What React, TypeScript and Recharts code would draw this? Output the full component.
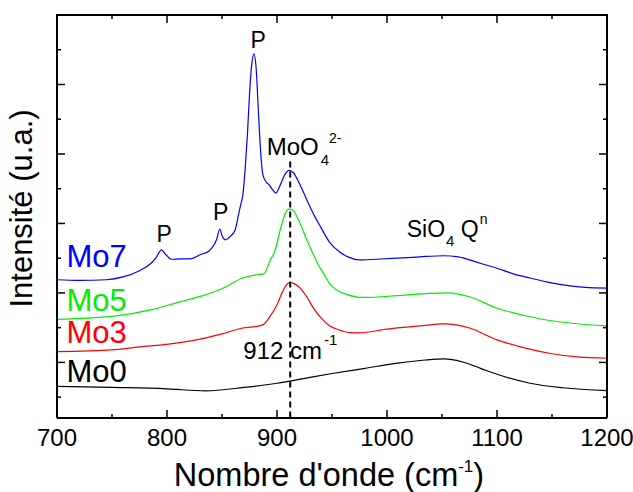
import React from 'react';
import { LineChart, Line, XAxis, YAxis, ReferenceLine, ReferenceDot } from 'recharts';

const FONT = '"Liberation Sans", Arial, Helvetica, sans-serif';

// Raman spectra, stacked (arbitrary units)
const mo0Wave = [700, 750, 800, 835, 870, 900, 930, 950, 980, 1010, 1035, 1052, 1068, 1085, 1100, 1130, 1160, 1200];
const mo0Int = [1.31, 1.28, 1.24, 1.18, 1.28, 1.4, 1.57, 1.68, 1.83, 1.98, 2.07, 2.1, 2.02, 1.83, 1.66, 1.4, 1.27, 1.19];

const mo3Wave = [700, 750, 775, 800, 830, 850, 869, 880, 887, 894, 900, 905, 909, 912, 916, 921, 927, 933, 940, 948, 956, 966, 975, 1000, 1030, 1052, 1075, 1100, 1125, 1150, 1175, 1200];
const mo3Int = [2.31, 2.36, 2.45, 2.52, 2.67, 2.82, 2.99, 3.03, 3.08, 3.34, 3.66, 4.03, 4.25, 4.3, 4.26, 4.14, 3.89, 3.57, 3.28, 3.05, 2.94, 2.86, 2.85, 2.96, 3.05, 3.11, 2.99, 2.65, 2.42, 2.25, 2.15, 2.12];

const mo5Wave = [700, 754, 785, 810, 830, 850, 869, 881, 888, 894, 898, 903, 907, 911, 915, 918, 922, 927, 932, 937, 943, 948, 955, 963, 978, 1009, 1039, 1055, 1075, 1100, 1125, 1145, 1170, 1200];
const mo5Int = [3.24, 3.34, 3.51, 3.73, 3.9, 4.12, 4.43, 4.52, 4.55, 4.95, 5.2, 5.82, 6.25, 6.41, 6.37, 6.2, 5.93, 5.53, 5.18, 4.84, 4.52, 4.26, 4.07, 3.96, 3.87, 3.92, 3.99, 4.0, 3.89, 3.56, 3.35, 3.22, 3.12, 3.05];

const mo7Wave = [700, 720, 745, 760, 775, 785, 790, 795, 799, 804, 812, 821, 830, 838, 843, 845, 848, 850, 853, 858, 862, 865, 867, 869, 871, 873, 875, 877, 879, 881, 883, 885, 887, 890, 893, 896, 899, 903, 907, 911, 915, 920, 925, 930, 935, 940, 948, 957, 965, 975, 990, 1009, 1030, 1051, 1065, 1080, 1100, 1115, 1130, 1145, 1160, 1180, 1200];
const mo7Int = [4.38, 4.36, 4.38, 4.46, 4.64, 4.84, 5.01, 5.24, 5.1, 4.97, 4.98, 4.98, 5.1, 5.2, 5.4, 5.53, 5.84, 5.65, 5.53, 5.64, 5.82, 6.25, 6.54, 6.83, 7.55, 8.5, 9.71, 10.57, 10.88, 10.49, 9.28, 8.12, 7.43, 7.2, 7.11, 6.97, 6.88, 7.11, 7.4, 7.53, 7.46, 7.17, 6.83, 6.48, 6.16, 5.88, 5.45, 5.18, 5.03, 4.95, 4.97, 5.0, 5.04, 5.07, 5.04, 4.9, 4.71, 4.55, 4.43, 4.32, 4.23, 4.16, 4.14];

const xTicks = [700, 750, 800, 850, 900, 950, 1000, 1050, 1100, 1150, 1200];
const yTicks = [1, 2, 3, 4, 5, 6, 7, 8, 9, 10, 11];
const X_DOMAIN = [700, 1200];
const Y_DOMAIN = [0.4, 12];

// chart box
const W = 633;
const H = 492;
const M_TOP = 15;
const M_RIGHT = 26;
const Y_AXIS_W = 57;
const X_AXIS_H = 74;
const PLOT_TOP = M_TOP;
const PLOT_RIGHT = W - M_RIGHT;

const zip = (wave: number[], vals: number[]) => wave.map((x, i) => ({ x, y: vals[i] }));

const series = [
  { name: 'Mo0', color: '#000000', data: zip(mo0Wave, mo0Int), labelY: 1.44 },
  { name: 'Mo3', color: '#ff0000', data: zip(mo3Wave, mo3Int), labelY: 2.55 },
  { name: 'Mo5', color: '#00ee00', data: zip(mo5Wave, mo5Int), labelY: 3.48 },
  { name: 'Mo7', color: '#0000ff', data: zip(mo7Wave, mo7Int), labelY: 4.76 },
];

// peak labels "P"
const peakX = [797.4, 848.9, 882.8];
const peakY = [5.47, 6.11, 11.05];

const txt = { fontFamily: FONT, fill: '#000' };

// bottom tick also draws its mirror on the top edge; the end ticks draw the top and right frame
function BottomTick(props: any) {
  const { x, y, payload } = props;
  const v = payload.value;
  const major = v % 100 === 0;
  const len = major ? 8 : 4;
  return (
    <g>
      <line x1={x} x2={x} y1={y} y2={y - len} stroke="#000" strokeWidth={1.5} />
      <line x1={x} x2={x} y1={PLOT_TOP} y2={PLOT_TOP + len} stroke="#000" strokeWidth={1.5} />
      {v === X_DOMAIN[0] && <line x1={x - 1} x2={PLOT_RIGHT + 1} y1={PLOT_TOP} y2={PLOT_TOP} stroke="#000" strokeWidth={2} />}
      {v === X_DOMAIN[1] && <line x1={x} x2={x} y1={PLOT_TOP} y2={y} stroke="#000" strokeWidth={2} />}
      {major && (
        <text x={x} y={y + 28} textAnchor="middle" fontSize={24} {...txt}>
          {v}
        </text>
      )}
    </g>
  );
}

// left tick also draws its mirror on the right edge
function LeftTick(props: any) {
  const { x, y, payload } = props;
  const len = payload.value % 2 === 0 ? 8 : 4;
  return (
    <g>
      <line x1={x} x2={x + len} y1={y} y2={y} stroke="#000" strokeWidth={1.5} />
      <line x1={PLOT_RIGHT} x2={PLOT_RIGHT - len} y1={y} y2={y} stroke="#000" strokeWidth={1.5} />
    </g>
  );
}

const yTitle = (props: any) => {
  const vb = props.viewBox;
  const cx = vb.x + 32;
  const cy = vb.y + vb.height / 2 - 8;
  return (
    <text x={cx} y={cy} transform={`rotate(-90, ${cx}, ${cy})`} textAnchor="middle" fontSize={31} {...txt}>
      Intensité (u.a.)
    </text>
  );
};

const xTitle = (props: any) => {
  const vb = props.viewBox;
  return (
    <text x={vb.x + vb.width / 2 - 3} y={vb.y + 68} textAnchor="middle" fontSize={32.5} {...txt}>
      Nombre d'onde (cm
      <tspan fontSize={17} dy={-14}>-1</tspan>
      <tspan dy={14}>)</tspan>
    </text>
  );
};

const axisLine = { stroke: '#000', strokeWidth: 2 };

export default function App() {
  return (
    <div style={{ position: 'absolute', left: 0, top: 0, width: W, height: H, background: '#fff' }}>
      <LineChart width={W} height={H} margin={{ top: M_TOP, right: M_RIGHT, bottom: 0, left: 0 }}>
        <XAxis
          dataKey="x"
          type="number"
          domain={X_DOMAIN}
          ticks={xTicks}
          interval={0}
          allowDataOverflow
          height={X_AXIS_H}
          tickSize={0}
          tickMargin={0}
          tickLine={false}
          axisLine={axisLine}
          tick={<BottomTick />}
          label={xTitle}
        />
        <YAxis
          type="number"
          domain={Y_DOMAIN}
          ticks={yTicks}
          interval={0}
          allowDataOverflow
          width={Y_AXIS_W}
          tickSize={0}
          tickMargin={0}
          tickLine={false}
          axisLine={axisLine}
          tick={<LeftTick />}
          label={yTitle}
        />

        {series.map((s) => (
          <Line
            key={s.name}
            data={s.data}
            dataKey="y"
            type="monotone"
            stroke={s.color}
            strokeWidth={1.2}
            dot={false}
            isAnimationActive={false}
          />
        ))}

        <ReferenceLine
          segment={[{ x: 912, y: 7.78 }, { x: 912, y: Y_DOMAIN[0] }]}
          stroke="#000"
          strokeWidth={2}
          strokeDasharray="6 4"
        />

        {series.map((s) => (
          <ReferenceDot
            key={`lbl-${s.name}`}
            x={708.6}
            y={s.labelY}
            shape={(p: any) => (
              <text x={p.cx} y={p.cy} fontSize={31} fontFamily={FONT} fill={s.color}>
                {s.name}
              </text>
            )}
          />
        ))}

        {peakX.map((px, i) => (
          <ReferenceDot
            key={`p-${i}`}
            x={px}
            y={peakY[i]}
            shape={(p: any) => (
              <text x={p.cx} y={p.cy} textAnchor="middle" fontSize={23} {...txt}>
                P
              </text>
            )}
          />
        ))}

        <ReferenceDot
          x={890.6}
          y={7.96}
          shape={(p: any) => (
            <text x={p.cx} y={p.cy} fontSize={24} {...txt}>
              MoO
              <tspan fontSize={15} dx={2} dy={10}>4</tspan>
              <tspan fontSize={14} dy={-22}>2-</tspan>
            </text>
          )}
        />
        <ReferenceDot
          x={1017.9}
          y={5.61}
          shape={(p: any) => (
            <text x={p.cx} y={p.cy} fontSize={23} {...txt}>
              SiO
              <tspan fontSize={15} dx={1} dy={9}>4</tspan>
              <tspan dy={-9}> Q</tspan>
              <tspan fontSize={14} dx={1} dy={-13}>n</tspan>
            </text>
          )}
        />
        <ReferenceDot
          x={869.4}
          y={2.09}
          shape={(p: any) => (
            <text x={p.cx} y={p.cy} fontSize={24} {...txt}>
              912 cm
              <tspan fontSize={15} dx={2} dy={-14}>-1</tspan>
            </text>
          )}
        />
      </LineChart>
    </div>
  );
}
